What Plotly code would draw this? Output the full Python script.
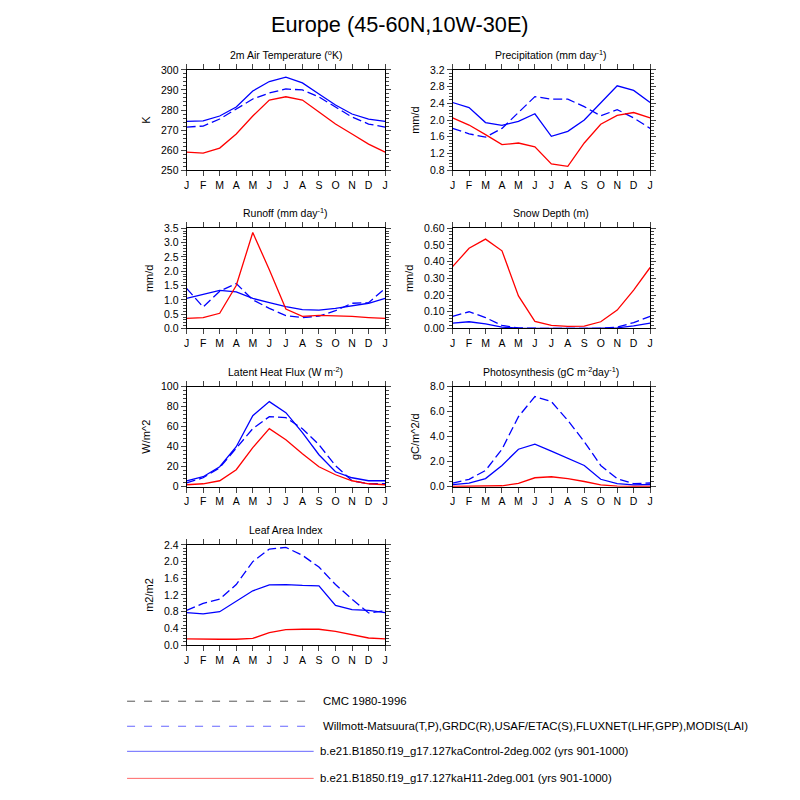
import plotly.graph_objects as go

months = ["J", "F", "M", "A", "M", "J", "J", "A", "S", "O", "N", "D", "J"]

# 2m Air Temperature (K)
temp_ctrl = [274.3, 274.6, 277.0, 281.5, 289.5, 294.2, 296.4, 293.5, 288.0, 282.5, 278.0, 275.5, 274.3]
temp_obs = [271.5, 272.0, 275.5, 280.5, 285.5, 288.5, 290.5, 290.0, 286.5, 281.5, 276.5, 273.0, 271.5]
temp_h11 = [259.0, 258.5, 261.0, 268.0, 277.0, 285.0, 286.6, 285.0, 279.0, 273.0, 268.0, 263.0, 259.0]

# Precipitation (mm/day)
prec_ctrl = [2.42, 2.30, 1.94, 1.87, 1.97, 2.15, 1.61, 1.73, 2.00, 2.42, 2.82, 2.71, 2.42]
prec_obs = [1.80, 1.67, 1.59, 1.80, 2.18, 2.56, 2.50, 2.50, 2.32, 2.10, 2.25, 2.05, 1.80]
prec_h11 = [2.05, 1.88, 1.65, 1.41, 1.45, 1.36, 0.95, 0.89, 1.45, 1.90, 2.11, 2.18, 2.05]

# Runoff (mm/day)
roff_ctrl = [1.05, 1.20, 1.33, 1.28, 1.05, 0.90, 0.76, 0.66, 0.64, 0.70, 0.78, 0.88, 1.05]
roff_obs = [1.40, 0.75, 1.30, 1.57, 1.00, 0.70, 0.45, 0.38, 0.43, 0.62, 0.88, 0.90, 1.40]
roff_h11 = [0.35, 0.38, 0.53, 1.50, 3.35, 2.05, 0.68, 0.42, 0.46, 0.45, 0.42, 0.38, 0.35]

# Snow depth (m)
snow_ctrl = [0.032, 0.040, 0.028, 0.008, 0.002, 0.0, 0.0, 0.0, 0.0, 0.0, 0.004, 0.015, 0.032]
snow_obs = [0.072, 0.100, 0.065, 0.018, 0.003, 0.0, 0.0, 0.0, 0.0, 0.001, 0.008, 0.035, 0.072]
snow_h11 = [0.370, 0.480, 0.535, 0.465, 0.195, 0.042, 0.018, 0.012, 0.014, 0.040, 0.110, 0.230, 0.365]

# Latent heat flux (W/m2)
lhf_ctrl = [6, 10, 20, 40, 71, 85, 74, 54, 32, 15, 9, 6, 6]
lhf_obs = [4, 9, 19, 38, 58, 70, 69, 58, 42, 21, 6, 3, 3]
lhf_h11 = [2, 3, 6, 17, 39, 58, 47, 33, 20, 12, 6, 3, 2]

# Photosynthesis (gC/m2/day)
gpp_ctrl = [0.18, 0.30, 0.65, 1.70, 3.00, 3.40, 2.85, 2.30, 1.70, 0.60, 0.25, 0.15, 0.18]
gpp_obs = [0.30, 0.60, 1.30, 3.00, 5.60, 7.20, 6.80, 5.30, 3.60, 1.70, 0.65, 0.25, 0.30]
gpp_h11 = [0.02, 0.02, 0.03, 0.08, 0.28, 0.72, 0.80, 0.65, 0.42, 0.15, 0.05, 0.02, 0.02]

# Leaf area index
lai_ctrl = [0.78, 0.75, 0.80, 1.05, 1.30, 1.44, 1.45, 1.43, 1.42, 0.95, 0.85, 0.83, 0.78]
lai_obs = [0.83, 1.00, 1.10, 1.45, 2.00, 2.30, 2.34, 2.15, 1.87, 1.45, 1.10, 0.77, 0.82]
lai_h11 = [0.15, 0.14, 0.14, 0.14, 0.16, 0.30, 0.37, 0.38, 0.38, 0.33, 0.25, 0.17, 0.15]

legend_labels = [
    "CMC 1980-1996",
    "Willmott-Matsuura(T,P),GRDC(R),USAF/ETAC(S),FLUXNET(LHF,GPP),MODIS(LAI)",
    "b.e21.B1850.f19_g17.127kaControl-2deg.002 (yrs 901-1000)",
    "b.e21.B1850.f19_g17.127kaH11-2deg.001 (yrs 901-1000)",
]

panels = [
    dict(title="2m Air Temperature (<sup>o</sup>K)", ytitle="K", rng=[250, 300], dtick=10, fmt="d",
         data=(temp_obs, temp_ctrl, temp_h11)),
    dict(title="Precipitation (mm day<sup>-1</sup>)", ytitle="mm/d", rng=[0.8, 3.2], dtick=0.4, fmt=".1f",
         data=(prec_obs, prec_ctrl, prec_h11)),
    dict(title="Runoff (mm day<sup>-1</sup>)", ytitle="mm/d", rng=[0, 3.5], dtick=0.5, fmt=".1f",
         data=(roff_obs, roff_ctrl, roff_h11)),
    dict(title="Snow Depth (m)", ytitle="mm/d", rng=[0, 0.6], dtick=0.1, fmt=".2f",
         data=(snow_obs, snow_ctrl, snow_h11)),
    dict(title="Latent Heat Flux (W m<sup>-2</sup>)", ytitle="W/m^2", rng=[0, 100], dtick=20, fmt="d",
         data=(lhf_obs, lhf_ctrl, lhf_h11)),
    dict(title="Photosynthesis (gC m<sup>-2</sup>day<sup>-1</sup>)", ytitle="gC/m^2/d", rng=[0, 8], dtick=2, fmt=".1f",
         data=(gpp_obs, gpp_ctrl, gpp_h11)),
    dict(title="Leaf Area Index", ytitle="m2/m2", rng=[0, 2.4], dtick=0.4, fmt=".1f",
         data=(lai_obs, lai_ctrl, lai_h11)),
]

W = H = 800
xdoms = [(185, 385), (453, 652)]
ydoms = [(70, 170), (228, 328), (386, 486), (544, 644)]


def ypx(y):
    # map target image row to page row (the capture is slightly squeezed vertically)
    return (y - 6.2) / 0.983


def yp(y):
    return 1 - ypx(y) / H


FONT = "Liberation Sans, Arial, sans-serif"
BLUE = "#0000ff"
RED = "#ff0000"

fig = go.Figure()
layout = dict(
    width=W, height=H, margin=dict(l=0, r=0, t=0, b=0),
    paper_bgcolor="white", plot_bgcolor="white", showlegend=False,
    font=dict(family=FONT, color="black", size=11),
)
annotations = []
shapes = []
x = list(range(13))

for i, p in enumerate(panels):
    r, c = divmod(i, 2)
    n = i + 1
    xa = "x" if n == 1 else f"x{n}"
    ya = "y" if n == 1 else f"y{n}"
    x0, x1 = xdoms[c]
    y0, y1 = ydoms[r]
    obs, ctrl, h11 = p["data"]
    fig.add_trace(go.Scatter(x=x, y=obs, mode="lines", line=dict(color=BLUE, width=1.3, dash="9px,4px"),
                             xaxis=xa, yaxis=ya))
    fig.add_trace(go.Scatter(x=x, y=ctrl, mode="lines", line=dict(color=BLUE, width=1.3),
                             xaxis=xa, yaxis=ya))
    fig.add_trace(go.Scatter(x=x, y=h11, mode="lines", line=dict(color=RED, width=1.3),
                             xaxis=xa, yaxis=ya))
    xkey = "xaxis" if n == 1 else f"xaxis{n}"
    ykey = "yaxis" if n == 1 else f"yaxis{n}"
    layout[xkey] = dict(
        domain=[x0 / W, x1 / W], anchor=ya, range=[0, 12], tickmode="array",
        tickvals=x, ticktext=months, ticks="outside", ticklen=5, tickwidth=1,
        showline=True, linecolor="black", linewidth=1, mirror="allticks",
        showgrid=False, zeroline=False, tickfont=dict(size=10.5, family=FONT),
    )
    layout[ykey] = dict(
        domain=[yp(y1), yp(y0)], anchor=xa, range=p["rng"], dtick=p["dtick"],
        tick0=p["rng"][0], tickformat=p["fmt"], ticks="outside", ticklen=5, tickwidth=1,
        minor=dict(ticks="outside", ticklen=2.5, dtick=p["dtick"] / 5, tick0=p["rng"][0]),
        showline=True, linecolor="black", linewidth=1, mirror="allticks",
        showgrid=False, zeroline=False, tickfont=dict(size=10.5, family=FONT),
        title=dict(text=p["ytitle"], font=dict(size=11, family=FONT), standoff=8),
    )
    annotations.append(dict(
        text=p["title"], xref="paper", yref="paper", x=(x0 + x1) / 2 / W, y=yp(y0 - 7),
        xanchor="center", yanchor="bottom", showarrow=False, font=dict(size=10.5, family=FONT),
    ))

annotations.append(dict(
    text="Europe (45-60N,10W-30E)", xref="paper", yref="paper", x=0.5, y=yp(25),
    xanchor="center", yanchor="middle", showarrow=False, font=dict(size=21.7, family=FONT),
))

leg_y = [700, 725, 750, 777]
leg_style = [
    dict(color="#555555", dash="8px,9px", x1=305, tx=320),
    dict(color="#6666ff", dash="8px,9px", x1=305, tx=320),
    dict(color="#6666ff", dash="solid", x1=313, tx=317),
    dict(color="#ff6666", dash="solid", x1=313, tx=317),
]
for yy, st, lab in zip(leg_y, leg_style, legend_labels):
    shapes.append(dict(type="line", xref="paper", yref="paper", x0=125 / W, x1=st["x1"] / W,
                       y0=yp(yy), y1=yp(yy),
                       line=dict(color=st["color"], width=1, dash=st["dash"])))
    annotations.append(dict(
        text=lab, xref="paper", yref="paper", x=st["tx"] / W,
        y=yp(yy), xanchor="left", yanchor="middle", showarrow=False,
        font=dict(size=11.4, family=FONT),
    ))

layout["annotations"] = annotations
layout["shapes"] = shapes
fig.update_layout(**layout)
fig.write_html("out.html", config={"displayModeBar": False},
               post_script="document.body.style.margin='0';document.body.style.overflow='hidden';")
